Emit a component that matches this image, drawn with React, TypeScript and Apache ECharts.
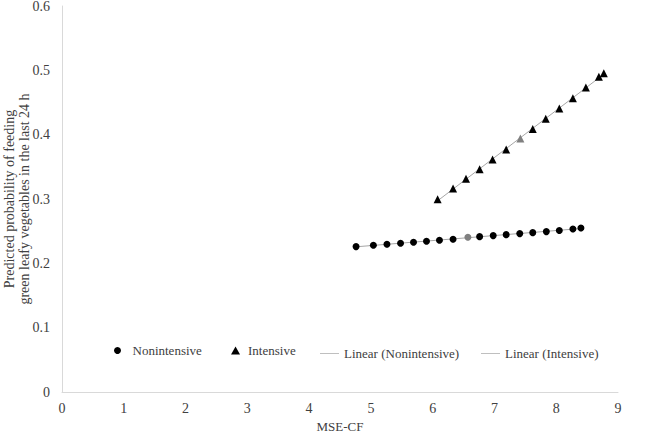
import React, { useEffect, useRef } from "react";
import * as echarts from "echarts";

const nonIntensiveX = [4.76, 5.04, 5.26, 5.48, 5.69, 5.9, 6.11, 6.33, 6.57, 6.76, 6.98, 7.19, 7.41, 7.62, 7.84, 8.05, 8.27, 8.4];
const nonIntensiveY = [0.226, 0.228, 0.2297, 0.2313, 0.2328, 0.2344, 0.236, 0.2375, 0.2406, 0.2415, 0.2431, 0.2446, 0.2462, 0.2477, 0.2493, 0.2509, 0.2535, 0.255];
const intensiveX = [6.08, 6.33, 6.54, 6.76, 6.97, 7.19, 7.42, 7.62, 7.83, 8.05, 8.27, 8.48, 8.69, 8.77];
const intensiveY = [0.2997, 0.3162, 0.3313, 0.3463, 0.3613, 0.3768, 0.3939, 0.409, 0.4246, 0.4406, 0.4567, 0.4732, 0.4899, 0.4956];
const highlightNon = 8;
const highlightInt = 6;
const seriesNames = ["Nonintensive", "Intensive", "Linear (Nonintensive)", "Linear (Intensive)"];
const yTitle = "Predicted probability of feeding\ngreen leafy vegetables in the last 24 h";
const xTitle = "MSE-CF";

function fitLine(xs: number[], ys: number[]) {
  const n = xs.length;
  const mx = xs.reduce((a, b) => a + b, 0) / n;
  const my = ys.reduce((a, b) => a + b, 0) / n;
  let sxy = 0, sxx = 0;
  for (let i = 0; i < n; i++) { sxy += (xs[i] - mx) * (ys[i] - my); sxx += (xs[i] - mx) ** 2; }
  const b = sxy / sxx;
  const a = my - b * mx;
  const x0 = Math.min(...xs), x1 = Math.max(...xs);
  return [[x0, a + b * x0], [x1, a + b * x1]];
}

const FONT = "Liberation Serif, Times New Roman, DejaVu Serif, serif";
const TXT = "#404040";

export default function App() {
  const ref = useRef<HTMLDivElement>(null);
  useEffect(() => {
    if (!ref.current) return;
    const chart = echarts.init(ref.current, undefined, { renderer: "svg" });
    const pts = (xs: number[], ys: number[], hi: number) =>
      xs.map((x, i) => (i === hi ? { value: [x, ys[i]], itemStyle: { color: "#808080" } } : [x, ys[i]]));
    const ts = { fontFamily: FONT, fontSize: 13, color: TXT };
    const ax = { fontFamily: FONT, fontSize: 14, color: TXT };
    chart.setOption({
      animation: false,
      textStyle: { fontFamily: FONT },
      grid: { left: 62, right: 43, top: 6, bottom: 41, containLabel: false, outerBoundsMode: "none" },
      xAxis: {
        type: "value", min: 0, max: 9, interval: 1,
        name: xTitle, nameLocation: "middle", nameGap: 24,
        nameTextStyle: ts,
        axisLine: { lineStyle: { color: "#d9d9d9", width: 1 } },
        axisTick: { show: false },
        splitLine: { show: false },
        axisLabel: { ...ax, margin: 9 },
      },
      yAxis: {
        type: "value", min: 0, max: 0.6, interval: 0.1,
        axisLine: { show: true, lineStyle: { color: "#d9d9d9", width: 1 } },
        axisTick: { show: false },
        splitLine: { show: false },
        axisLabel: { ...ax, margin: 12 },
      },
      legend: [
        { top: 344, padding: 0, textStyle: ts, left: 114, itemWidth: 20, itemHeight: 7, data: [seriesNames[0]] },
        { top: 344, padding: 0, left: 231, itemWidth: 9, itemHeight: 8, data: [seriesNames[1]], textStyle: { ...ts, padding: [0, 0, 0, 3] } },
        { top: 347, padding: 0, textStyle: ts, left: 320, itemWidth: 19, itemHeight: 1, data: [{ name: seriesNames[2], icon: "rect" }] },
        { top: 347, padding: 0, textStyle: ts, left: 481, itemWidth: 19, itemHeight: 1, data: [{ name: seriesNames[3], icon: "rect" }] },
      ],
      graphic: [
        {
          type: "text", x: 17, y: 199, rotation: Math.PI / 2,
          style: { text: yTitle, fontFamily: FONT, fontSize: 14, fill: TXT, textAlign: "center", textVerticalAlign: "middle", lineHeight: 15 },
        },
      ],
      series: [
        {
          name: seriesNames[2], type: "line", data: fitLine(nonIntensiveX, nonIntensiveY), symbol: "none",
          lineStyle: { color: "#a6a6a6", width: 1 }, itemStyle: { color: "#bfbfbf" }, z: 1,
        },
        {
          name: seriesNames[3], type: "line", data: fitLine(intensiveX, intensiveY), symbol: "none",
          lineStyle: { color: "#a6a6a6", width: 1 }, itemStyle: { color: "#bfbfbf" }, z: 1,
        },
        {
          name: seriesNames[0], type: "scatter", symbol: "circle", symbolSize: 7,
          itemStyle: { color: "#000", opacity: 1 }, data: pts(nonIntensiveX, nonIntensiveY, highlightNon), z: 3,
        },
        {
          name: seriesNames[1], type: "scatter", symbol: "triangle", symbolSize: 8,
          itemStyle: { color: "#000", opacity: 1 }, data: pts(intensiveX, intensiveY, highlightInt), z: 3,
        },
      ],
    });
    return () => chart.dispose();
  }, []);
  return <div ref={ref} style={{ width: 661, height: 433, position: "fixed", left: 0, top: 0, overflow: "hidden", background: "#fff" }} />;
}
